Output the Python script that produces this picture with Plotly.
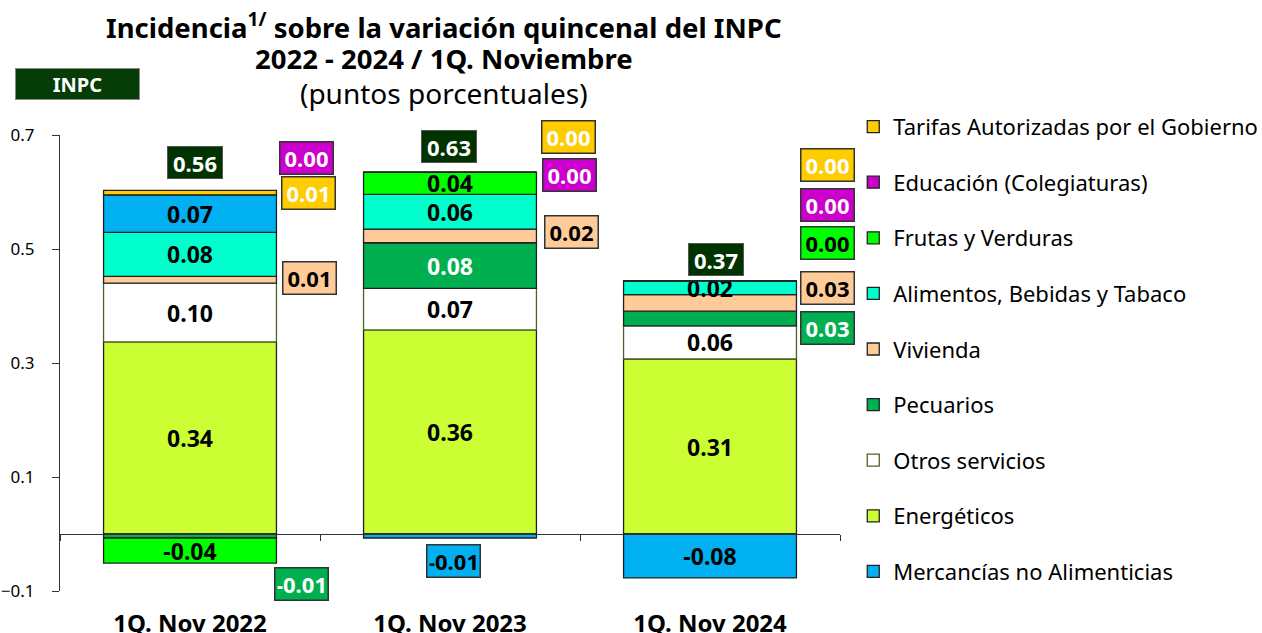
import plotly.graph_objects as go

FONT = "Noto Sans"

categories = ["1Q. Nov 2022", "1Q. Nov 2023", "1Q. Nov 2024"]
inpc_total = [0.56, 0.63, 0.37]

energeticos = [0.337, 0.358, 0.307]
otros_servicios = [0.103, 0.073, 0.058]
pecuarios = [-0.007, 0.080, 0.026]
vivienda = [0.012, 0.024, 0.029]
alimentos = [0.077, 0.061, 0.024]
frutas_verduras = [-0.044, 0.039, 0.0]
mercancias = [0.066, -0.007, -0.077]
educacion = [0.0, 0.0, 0.0]
tarifas = [0.008, 0.0, 0.0]

series_names = [
    "Energéticos", "Otros servicios", "Pecuarios", "Vivienda",
    "Alimentos, Bebidas y Tabaco", "Frutas y Verduras",
    "Mercancías no Alimenticias", "Educación (Colegiaturas)",
    "Tarifas Autorizadas por el Gobierno",
]
series_values = [energeticos, otros_servicios, pecuarios, vivienda, alimentos,
                 frutas_verduras, mercancias, educacion, tarifas]

# styles
fill_colors = ["#CCFF33", "#FFFFFF", "#00B050", "#FFCC99", "#00FFCC",
               "#00FF00", "#00B0F0", "#CC00CC", "#FFCC00"]
edge_colors = ["#222222", "#4F6228", "#222222", "#222222", "#222222",
               "#222222", "#222222", "#222222", "#222222"]
inside_text_colors = ["black", "black", "white", "black", "black",
                      "black", "black", "white", "white"]
box_text_colors = ["black", "black", "white", "black", "black",
                   "black", "black", "white", "white"]
legend_ranks = [8, 7, 6, 5, 4, 3, 9, 2, 1]
inside_shown = [
    [True, True, True],
    [True, True, True],
    [False, True, False],
    [False, False, False],
    [True, True, True],
    [True, True, False],
    [True, False, True],
    [False, False, False],
    [False, False, False],
]
# outside label boxes: (series index, category index, y position, x shift px)
box_labels = [
    (7, 0, 0.660, 116), (8, 0, 0.598, 118), (3, 0, 0.449, 119), (2, 0, -0.087, 111),
    (8, 1, 0.697, 118), (7, 1, 0.630, 119), (3, 1, 0.529, 121), (6, 1, -0.0465, 3),
    (8, 2, 0.647, 117), (7, 2, 0.577, 117), (5, 2, 0.510, 117), (3, 2, 0.431, 117),
    (2, 2, 0.362, 117),
]
total_label_pos = [(0.651, 5), (0.680, -1), (0.481, 6)]

fig = go.Figure()
for name, vals, fc, ec, tc, shown, rank in zip(series_names, series_values, fill_colors,
                                               edge_colors, inside_text_colors,
                                               inside_shown, legend_ranks):
    texts = [f"{v:.2f}" if s else None for v, s in zip(vals, shown)]
    fig.add_trace(go.Bar(
        x=categories, y=vals, name=name,
        marker=dict(color=fc, line=dict(color=ec, width=1.3)),
        text=texts, textposition="inside", insidetextanchor="middle",
        textangle=0, constraintext="none",
        textfont=dict(family=FONT, size=23, color=tc, weight="bold"),
        legendrank=rank, legendgroup=name,
    ))

annotations = []
for si, ci, ypos, xs in box_labels:
    v = series_values[si][ci]
    annotations.append(dict(
        x=ci, y=ypos, xref="x", yref="y", xshift=xs, showarrow=False,
        xanchor="center", yanchor="middle",
        text=f"<b>{v:.2f}</b>", font=dict(family=FONT, size=22, color=box_text_colors[si]),
        bgcolor=fill_colors[si], bordercolor="#333333", borderwidth=1.5, borderpad=2,
        width=48, height=27,
    ))
for ci, (ypos, xs) in enumerate(total_label_pos):
    annotations.append(dict(
        x=ci, y=ypos, xref="x", yref="y", xshift=xs, showarrow=False,
        xanchor="center", yanchor="middle",
        text=f"<b>{inpc_total[ci]:.2f}</b>", font=dict(family=FONT, size=22, color="white"),
        bgcolor="#003300", bordercolor="#555555", borderwidth=1, borderpad=2,
        width=50, height=27,
    ))

# titles
annotations += [
    dict(x=0.492, y=1.240, xref="paper", yref="paper", showarrow=False,
         xanchor="center", yanchor="middle",
         text="<b>Incidencia<sup>1/</sup> sobre la variación quincenal del INPC</b>",
         font=dict(family=FONT, size=27.5, color="black")),
    dict(x=0.492, y=1.168, xref="paper", yref="paper", showarrow=False,
         xanchor="center", yanchor="middle",
         text="<b>2022 - 2024 / 1Q. Noviembre</b>",
         font=dict(family=FONT, size=27.5, color="black")),
    dict(x=0.492, y=1.092, xref="paper", yref="paper", showarrow=False,
         xanchor="center", yanchor="middle",
         text="(puntos porcentuales)",
         font=dict(family=FONT, size=28, color="black")),
    dict(x=0.022, y=1.112, xref="paper", yref="paper", showarrow=False,
         xanchor="center", yanchor="middle",
         text="<b>INPC</b>", font=dict(family=FONT, size=20, color="white"),
         bgcolor="#063D06", bordercolor="#888888", borderwidth=1, borderpad=1,
         width=121, height=28),
]

fig.update_layout(
    width=1262, height=633,
    margin=dict(l=60, r=422, t=135, b=42, autoexpand=False),
    paper_bgcolor="white", plot_bgcolor="white",
    barmode="relative", bargap=0.335,
    uniformtext=dict(mode="show", minsize=22),
    font=dict(family=FONT, color="black"),
    showlegend=True,
    legend=dict(x=1.017, y=1.064, xanchor="left", yanchor="top",
                traceorder="grouped", tracegroupgap=24, maxheight=580,
                font=dict(family=FONT, size=22, color="black"),
                bgcolor="rgba(0,0,0,0)"),
    annotations=annotations,
)
fig.update_xaxes(
    type="category", anchor="free", position=0.125, automargin=False,
    range=[-0.5, 2.5],
    showline=True, linecolor="#333333", linewidth=1,
    ticks="outside", tickson="boundaries", ticklen=6, tickcolor="#333333",
    ticklabelstandoff=68, showgrid=False,
    tickfont=dict(family=FONT, size=24, color="black", weight="bold"),
)
fig.update_yaxes(
    range=[-0.1, 0.7], tickvals=[-0.1, 0.1, 0.3, 0.5, 0.7], tickformat=".1f",
    showline=True, linecolor="#333333", linewidth=1, automargin=False,
    ticks="outside", ticklen=7, tickcolor="#333333", ticklabelstandoff=14,
    showgrid=False, zeroline=False,
    tickfont=dict(family=FONT, size=17, color="black"),
)

fig.write_html("out.html", config={"displayModeBar": False},
               post_script="document.body.style.margin='0';document.body.style.overflow='hidden';")
